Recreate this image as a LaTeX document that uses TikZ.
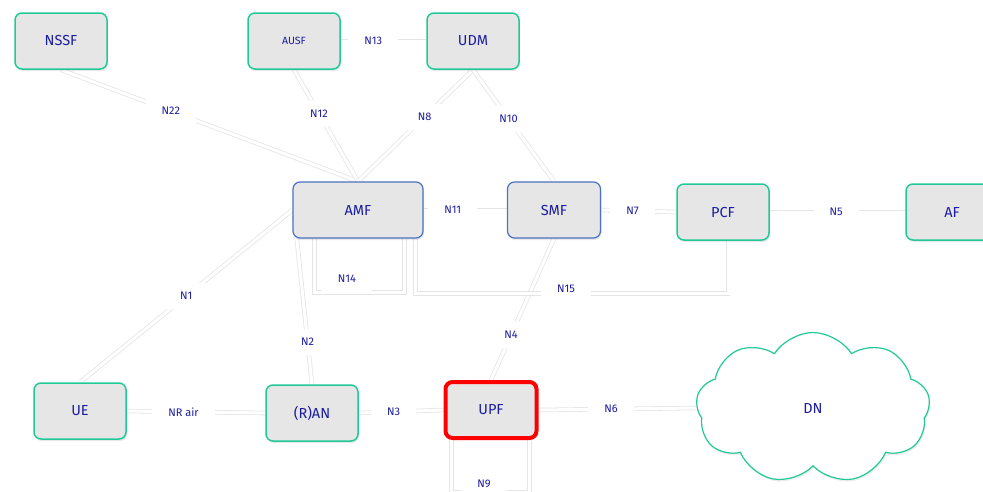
\documentclass[tikz,border=0pt]{standalone}
\usepackage{fontspec}
\setsansfont{Fira Sans}
\usetikzlibrary{shapes.symbols, shadows, calc, backgrounds}
\definecolor{nfgreen}{HTML}{20C997}
\definecolor{nfblue}{HTML}{4A72C4}
\definecolor{nfred}{HTML}{FF0000}
\definecolor{nffill}{HTML}{E6E6E6}
\definecolor{nftext}{HTML}{1C1CA0}
\tikzset{
  nf/.style={draw=nfgreen, fill=nffill, line width=1.5pt, rounded corners=7pt,
    minimum width=92pt, minimum height=56pt, text=nftext,
    font=\sffamily\fontsize{14.5}{14.5}\selectfont,
    drop shadow={opacity=0.18, shadow xshift=1pt, shadow yshift=-2pt}},
  core/.style={nf, draw=nfblue, line width=1.2pt},
  link/.style={draw=black!10, double=white, double distance=3pt, line width=0.8pt},
  lbl/.style={fill=white, text=nftext, inner xsep=16pt, inner ysep=9pt,
    font=\sffamily\fontsize{11}{11}\selectfont},
  every node/.append style={font=\sffamily}
}

\begin{document}
\begin{tikzpicture}[x=1pt, y=-1pt]
\useasboundingbox (0,0) rectangle (983,491);
% network functions
\node[nf] (nssf) at (61,41) {NSSF};
\node[nf, font=\sffamily\fontsize{10.5}{10.5}\selectfont] (ausf) at (294,41) {AUSF};
\node[nf] (udm) at (473,41) {UDM};
\node[core, minimum width=130pt] (amf) at (358,210) {AMF};
\node[core, minimum width=93pt] (smf) at (554,210) {SMF};
\node[nf] (pcf) at (723,212) {PCF};
\node[nf] (af) at (952,212) {AF};
\node[nf] (ue) at (80,411) {UE};
\node[nf] (ran) at (312,413) {(R)AN};
\node[nf, draw=nfred, line width=4pt, minimum width=91pt, minimum height=56pt] (upf) at (491,410) {UPF};
\node[cloud, cloud puffs=9, cloud puff arc=115, aspect=1.55, draw=nfgreen,
  line width=1.2pt, fill=white, minimum width=234pt, minimum height=151pt,
  text=nftext, font=\sffamily\fontsize{14.5}{14.5}\selectfont,
  drop shadow={opacity=0.15, shadow xshift=1pt, shadow yshift=-2pt}] (dn) at (813,408) {DN};

% interfaces
\begin{scope}[on background layer]
\draw[link] (nssf.south) -- node[lbl, pos=0.37] {N22} (amf.north);
\draw[link] (ausf.south) -- node[lbl, pos=0.39] {N12} (amf.north);
\draw[link] (udm.south) -- node[lbl, pos=0.42] {N8} (amf.north);
\draw[link] (udm.south) -- node[lbl, pos=0.44] {N10} (smf.north);
\draw[link] (ausf.east) -- node[lbl, pos=0.38] {N13} (udm.west);
\draw[link] (amf.east) -- node[lbl, pos=0.35] {N11} (smf.west);
\draw[link] (smf.east) -- node[lbl, pos=0.42] {N7} (pcf.west);
\draw[link] (pcf.east) -- node[lbl, pos=0.49] {N5} (af.west);
\draw[link] (amf.west) -- node[lbl, pos=0.5] {N1} (ue.north);
\draw[link] ($(amf.south west)+(2,-23)$) -- node[lbl, pos=0.75] {N2} (ran.north);
\draw[link] (ue.east) -- node[lbl, pos=0.41] {NR air} (ran.west);
\draw[link] (ran.east) -- node[lbl, pos=0.41] {N3} (upf.west);
\draw[link] (smf.south) -- node[lbl, pos=0.68] {N4} (upf.north);
\draw[link] (upf.east) -- node[lbl, pos=0.46] {N6} (dn.west);
\draw[link] ($(amf.south west)+(22,0)$) -- ++(0,54) -- ++(90,0) -- ++(0,-54);
\node[lbl] (n14) at (347,279) {N14};
\draw[link] ($(amf.south east)+(-8,0)$) -- ++(0,55) -| ($(pcf.south)+(5,0)$);
\node[lbl] (n15) at (566,289) {N15};
\draw[link] ($(upf.south west)+(8,0)$) -- ++(0,52) -- ++(78,0) -- ++(0,-52);
\node[lbl, inner ysep=4pt] (n9) at (484,484) {N9};
\end{scope}
\end{tikzpicture}
\end{document}
